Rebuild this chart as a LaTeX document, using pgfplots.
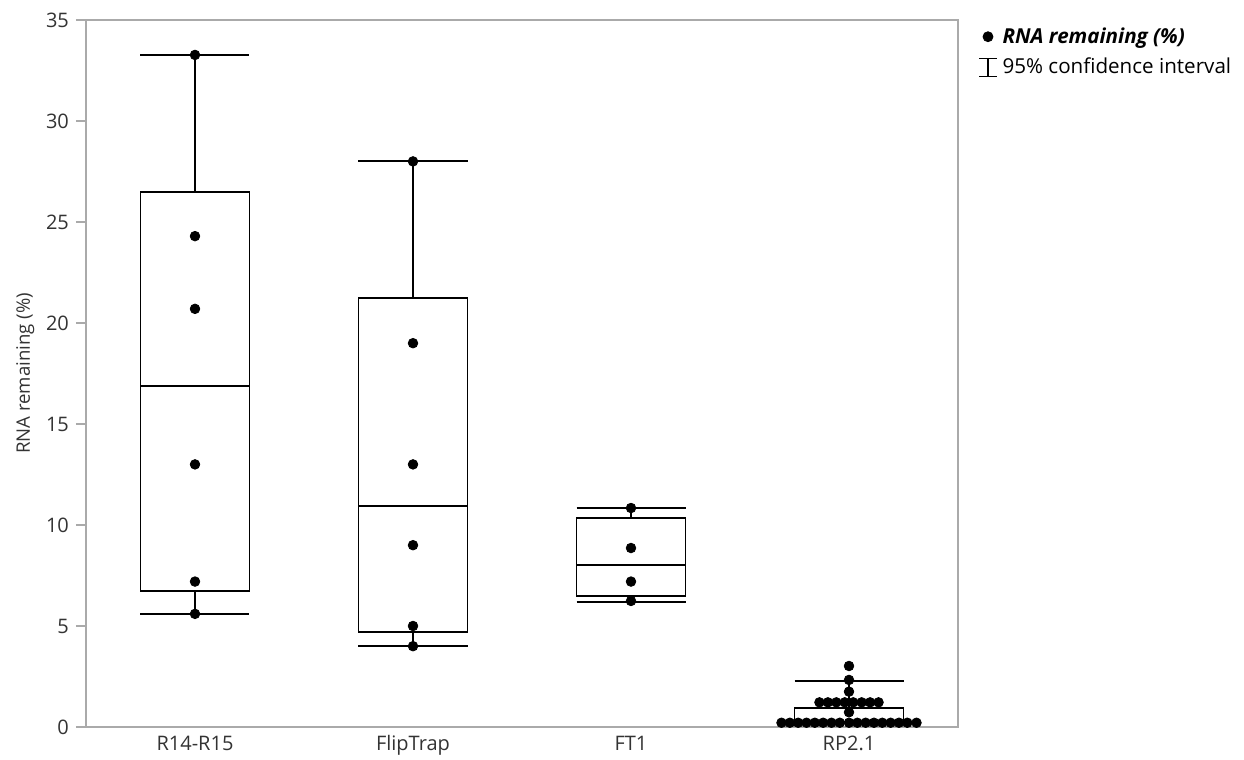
\documentclass[border=0pt]{standalone}
\usepackage{fontspec}
\setmainfont{Open Sans}
\usepackage{pgfplots}
\pgfplotsset{compat=1.18}
\usepgfplotslibrary{statistics}
\definecolor{axgray}{HTML}{AAAAAA}
\definecolor{txt}{HTML}{333333}
\begin{document}
\begin{tikzpicture}
\useasboundingbox (0pt,0pt) rectangle (622pt,380pt);
\begin{axis}[
  at={(43pt,16.5pt)}, anchor=south west,
  scale only axis, width=436pt, height=353.5pt,
  xmin=-0.5, xmax=3.5, ymin=0, ymax=35,
  xtick={0,1,2,3}, xticklabels={R14-R15,FlipTrap,FT1,RP2.1},
  ytick={0,5,...,35},
  ytick pos=left,
  major x tick style={draw=none},
  ytick style={axgray, line width=0.9pt},
  tick align=outside, major tick length=5pt,
  axis line style={axgray, line width=0.9pt},
  ticklabel style={font=\fontsize{10}{12}\selectfont, text=txt},
  xticklabel style={anchor=base, yshift=-7pt},
  /pgf/number format/assume math mode=true,
  ylabel={RNA remaining (\%)},
  ylabel style={font=\fontsize{9.3}{11}\selectfont, text=txt},
  every axis y label/.append style={at={(ticklabel cs:0.5)}, yshift=-1pt},
  legend style={at={(1,1)}, anchor=north west, draw=none, fill=none,
    font=\fontsize{10.3}{12}\selectfont, text=black, xshift=7pt, yshift=0.5pt,
    row sep=2pt, /tikz/every odd column/.append style={column sep=0.5pt}},
  legend cell align=left,
  boxplot/draw direction=y,
  boxplot/box extend=0.5, boxplot/whisker extend=0.5,
]
\addlegendimage{legend image code/.code={\fill[black] (4.5pt,0pt) circle (2.5pt); \path[draw=none,fill=none] (0pt,0pt) -- (9pt,0pt);}}
\addlegendentry{\textbf{\textit{RNA remaining (\%)}}}
\addlegendimage{legend image code/.code={\draw[black,line width=0.6pt] (0pt,-4.5pt) -- (9pt,-4.5pt) (4.5pt,-4.5pt) -- (4.5pt,4.5pt) (0pt,4.5pt) -- (9pt,4.5pt);}}
\addlegendentry{95\% confidence interval}

\addplot[black, line width=0.9pt, boxplot prepared={draw position=0,
  lower whisker=5.59, lower quartile=6.73, median=16.88, upper quartile=26.49, upper whisker=33.27}] coordinates {};
\addplot[black, line width=0.9pt, boxplot prepared={draw position=1,
  lower whisker=4.0, lower quartile=4.70, median=10.94, upper quartile=21.24, upper whisker=28.0}] coordinates {};
\addplot[black, line width=0.9pt, boxplot prepared={draw position=2,
  lower whisker=6.19, lower quartile=6.49, median=8.02, upper quartile=10.35, upper whisker=10.84}] coordinates {};
\addplot[black, line width=0.9pt, boxplot prepared={draw position=3,
  lower whisker=0.20, lower quartile=0.24, median=0.24, upper quartile=0.96, upper whisker=2.29}] coordinates {};

\addplot[only marks, mark=*, mark size=2.4pt, black] coordinates {
  (0,33.27) (0,24.3) (0,20.7) (0,13.0) (0,7.2) (0,5.6)
  (1,28.0) (1,19.0) (1,13.0) (1,9.0) (1,5.0) (1,4.0)
  (2,10.84) (2,8.86) (2,7.2) (2,6.24)
  (3,3.02) (3,2.33) (3,1.75) (3,0.73)
  (2.8645,1.22) (2.9032,1.22) (2.9419,1.22) (2.9806,1.22) (3.0194,1.22) (3.0581,1.22) (3.0968,1.22) (3.1355,1.22)
  (2.6904,0.21) (2.7286,0.21) (2.7668,0.21) (2.8050,0.21) (2.8432,0.21) (2.8814,0.21) (2.9196,0.21) (2.9578,0.21)
  (3,0.21) (3.0382,0.21) (3.0764,0.21) (3.1146,0.21) (3.1528,0.21) (3.1910,0.21) (3.2292,0.21) (3.2674,0.21) (3.3096,0.21)
};
\end{axis}
\end{tikzpicture}
\end{document}
